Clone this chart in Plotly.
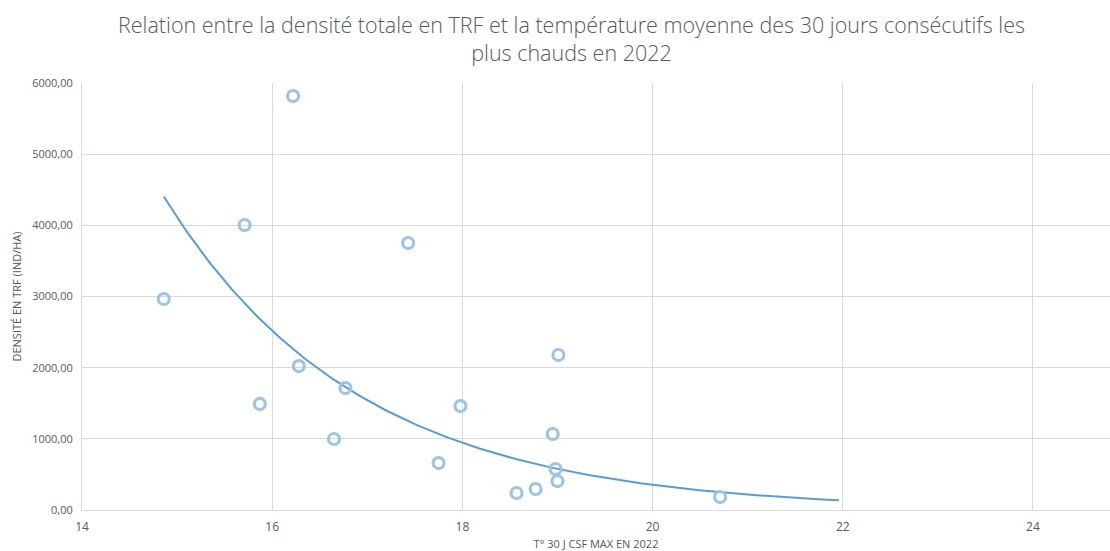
import numpy as np
import plotly.graph_objects as go

temperature = [14.86, 15.71, 15.87, 16.22, 16.28, 16.65, 16.77, 17.43, 17.75, 17.98,
               18.57, 18.77, 18.95, 18.98, 19.01, 19.00, 20.71]
densite = [2965, 4005, 1490, 5817, 2023, 998, 1714, 3752, 660, 1461,
           239, 295, 1068, 576, 2178, 407, 183]
x_ticks = [14, 16, 18, 20, 22, 24]
y_ticks = [0, 1000, 2000, 3000, 4000, 5000, 6000]
y_tick_labels = ["0,00", "1000,00", "2000,00", "3000,00", "4000,00", "5000,00", "6000,00"]
forecast_forward = 1.25
title_text = ("Relation entre la densité totale en TRF et la température moyenne des 30 jours consécutifs les"
              "<br>plus chauds en 2022")

# Exponential trendline (Excel style: linear fit on ln y)
xa = np.array(temperature)
ya = np.array(densite)
b, lna = np.polyfit(xa, np.log(ya), 1)
xt = np.linspace(xa.min(), xa.max() + forecast_forward, 200)
yt = np.exp(lna) * np.exp(b * xt)

fig = go.Figure()
fig.add_trace(go.Scatter(
    x=xt, y=yt, mode="lines",
    line=dict(color="#5B9BD5", width=2),
    hoverinfo="skip", showlegend=False))
fig.add_trace(go.Scatter(
    x=temperature, y=densite, mode="markers",
    marker=dict(symbol="circle-open", size=11, color="#9DC3E6",
                line=dict(width=3.2, color="#9DC3E6")),
    showlegend=False))

grey = "#595959"
fig.add_annotation(
    text=title_text, xref="paper", yref="paper", x=0.4757, y=1.176,
    xanchor="center", yanchor="top", showarrow=False, align="center",
    font=dict(family="Open Sans", size=21.5, color=grey, weight=300))

fig.update_layout(
    width=1110, height=551,
    margin=dict(l=82, r=0, t=83, b=41),
    paper_bgcolor="white", plot_bgcolor="white",
    font=dict(family="Open Sans", color=grey),
    xaxis=dict(
        range=[14, 24.81], tickvals=x_ticks, ticktext=[str(t) for t in x_ticks],
        showgrid=True, gridcolor="#D9D9D9", gridwidth=1,
        showline=True, linecolor="#D9D9D9", linewidth=1,
        zeroline=False, ticks="", ticklabelstandoff=6, automargin=False,
        tickfont=dict(family="Open Sans", size=12, color=grey),
        title=dict(text="T° 30 J CSF MAX EN 2022", standoff=10,
                   font=dict(family="Liberation Sans Narrow, Open Sans", size=11, color=grey)),
        fixedrange=True),
    yaxis=dict(
        range=[0, 6000], tickvals=y_ticks, ticktext=y_tick_labels,
        showgrid=True, gridcolor="#D9D9D9", gridwidth=1,
        showline=True, linecolor="#D9D9D9", linewidth=1,
        zeroline=False, ticks="", ticklabelstandoff=6, automargin=False,
        tickfont=dict(family="Open Sans", size=11, color=grey),
        title=dict(text="DENSITÉ EN TRF (IND/HA)", standoff=8,
                   font=dict(family="Liberation Sans Narrow, Open Sans", size=11, color=grey)),
        fixedrange=True),
)

fig.write_html("out.html")
